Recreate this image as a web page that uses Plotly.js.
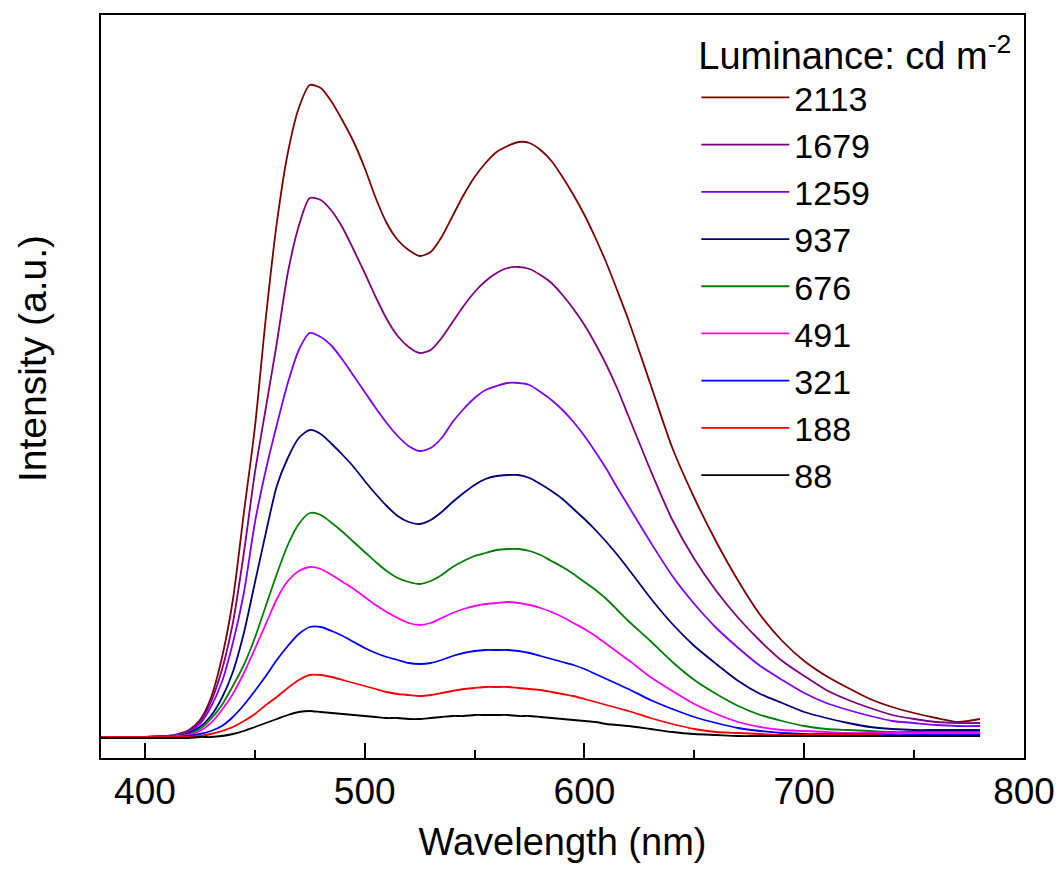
<!DOCTYPE html>
<html>
<head>
<meta charset="utf-8">
<script src="https://cdn.plot.ly/plotly-3.0.1.min.js"></script>
<style>html,body{margin:0;padding:0;background:#fff;}#chart{width:1060px;height:878px;}</style>
</head>
<body>
<div id="chart"></div>
<script>
// Wavelength grid (nm)
const wavelength = [380,400,410,415,
  420,425,430,435,440,445,450,455,460,465,
  470,475,480,485,490,495,500,505,510,515,
  520,525,530,535,540,545,550,555,560,565,
  570,575,580,585,590,595,600,605,610,615,
  620,
  630,640,650,660,670,680,690,700,710,720,730,740,750,760,770,780];

// Luminance labels (cd m^-2)
const luminance = ["2113","1679","1259","937","676","491","321","188","88"];

// Intensity (a.u.) per luminance
const I2113 = [1,1,2,4, 8,18,40,80,138,225,310,420,515,585, 630,653,650,636,617,596,570,540,515,498, 488,482,486,501,522,543,561,575,586,592, 596,595,588,577,561,543,523,500,475,447, 418, 354,290,240,196,157,123,97,77,62,50,39,31,25,20,16,19];
const I1679 = [1,1,2,3, 7,16,36,68,115,185,265,330,395,465, 512,540,538,527,510,488,465,441,419,402, 391,385,388,400,416,432,446,457,465,470, 471,469,463,455,443,429,413,394,373,349, 322, 268,218,179,147,120,97,77,62,48,38,30,23,19,16,15,15];
const I1259 = [1,1,2,3, 6,14,31,56,95,145,215,268,313,355, 388,405,401,392,378,362,346,330,315,302, 292,287,290,300,316,329,340,348,352,355, 355,353,346,338,328,316,302,286,269,250, 232, 196,162,134,110,90,72,58,45,35,28,22,17,15,13,12,12];
const I937  = [1,1,1,2, 5,11,22,40,66,105,155,205,252,280, 300,308,304,294,283,271,257,244,232,222, 216,214,218,226,236,245,253,259,262,263, 263,260,254,247,239,229,219,208,196,183, 169, 140,114,92,74,57,44,35,26,20,15,11,9,8,8,8,8];
const I676  = [1,1,1,2, 4,9,19,33,52,73,100,132,164,193, 214,225,223,215,206,196,186,176,167,160, 156,154,157,163,171,177,182,185,188,189, 189,187,183,177,171,164,156,148,139,128, 117, 97,76,58,44,32,23,17,12,9,8,7,6,6,6,6,6];
const I491  = [1,1,1,2, 3,7,15,28,44,65,89,114,139,157, 167,171,169,163,156,149,141,133,126,120, 115,113,115,120,125,129,132,134,135,136, 135,133,130,126,121,115,109,102,94,86, 78, 61,47,34,24,16,11,8,7,6,5,5,5,5,5,5,5];
const I321  = [1,1,1,1, 2,4,7,12,21,33,47,62,78,92, 104,111,111,107,102,96,90,85,81,78, 75,74,75,78,82,85,87,88,88,88, 87,85,82,79,76,73,69,64,59,54, 49, 38,29,21,15,10,7,5,4,4,4,4,3,3,3,3,3];
const I188  = [1,1,1,1, 1,2,4,7,11,17,24,33,41,50, 58,63,63,61,58,55,52,49,46,44, 43,42,43,45,47,49,50,51,51,51, 50,49,48,46,44,42,39,36,33,30, 27, 20,14,9,6,5,4,3,3,3,3,3,2,2,2,2,2];
const I88   = [0,0,0,0, 0,1,1,2,4,7,11,15,19,23, 26,27,26,25,24,23,22,21,20,20, 19,19,20,21,22,22,23,23,23,23, 22,22,21,20,19,18,17,16,14,13, 12, 9,6,4,3,2,2,2,2,2,2,2,2,2,2,2,2];

const series = [I2113,I1679,I1259,I937,I676,I491,I321,I188,I88];
const colors = ["#800000","#800080","#8000FF","#000080","#008000","#FF00FF","#0000FF","#FF0000","#000000"];

const FONT = "Arial, 'Liberation Sans', sans-serif";

const traces = series.map((vals, i) => ({
  x: wavelength,
  y: vals,
  type: "scatter",
  mode: "lines",
  name: luminance[i],
  line: {color: colors[i], width: 1.8, shape: "spline", smoothing: 0.7}
}));

const layout = {
  width: 1060,
  height: 878,
  margin: {l: 101, r: 36, t: 15, b: 120},
  paper_bgcolor: "#ffffff",
  plot_bgcolor: "#ffffff",
  font: {family: FONT, size: 37, color: "#000"},
  showlegend: true,
  legend: {
    x: 0.645, y: 0.994, xanchor: "left", yanchor: "top",
    bgcolor: "rgba(0,0,0,0)",
    font: {family: FONT, size: 34, color: "#000"},
    title: {text: "Luminance: cd m<sup>-2</sup>", font: {family: FONT, size: 38, color: "#000"}},
    itemwidth: 88,
    tracegroupgap: 0
  },
  xaxis: {
    range: [380, 800],
    dtick: 100,
    tick0: 400,
    ticks: "inside",
    ticklen: 15,
    tickwidth: 2,
    tickcolor: "#000",
    minor: {ticks: "inside", dtick: 50, tick0: 400, ticklen: 8, tickwidth: 2, tickcolor: "#000"},
    showline: true,
    linecolor: "#000",
    linewidth: 2,
    mirror: true,
    showgrid: false,
    zeroline: false,
    tickfont: {family: FONT, size: 37, color: "#000"},
    title: {text: "Wavelength (nm)", font: {family: FONT, size: 38, color: "#000"}, standoff: 17}
  },
  yaxis: {
    range: [-20, 723],
    showticklabels: false,
    ticks: "",
    showline: true,
    linecolor: "#000",
    linewidth: 2,
    mirror: true,
    showgrid: false,
    zeroline: false
  },
  annotations: [{
    text: "Intensity (a.u.)",
    xref: "paper", yref: "paper",
    x: -0.075, y: 0.538,
    xanchor: "center", yanchor: "middle",
    textangle: -90,
    showarrow: false,
    font: {family: FONT, size: 39, color: "#000"}
  }]
};

Plotly.newPlot("chart", traces, layout, {displayModeBar: false, staticPlot: true});
</script>
</body>
</html>
